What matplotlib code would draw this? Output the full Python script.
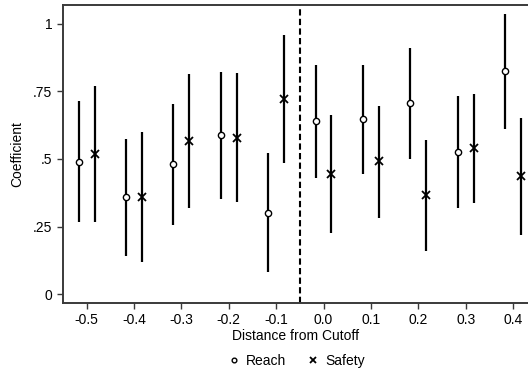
import matplotlib.pyplot as plt
import numpy as np

plt.rcParams["font.family"] = ["Liberation Sans", "DejaVu Sans"]

# bins of distance from cutoff
bins = [-0.5, -0.4, -0.3, -0.2, -0.1, 0.0, 0.1, 0.2, 0.3, 0.4]

reach_coef = [0.49, 0.358, 0.48, 0.587, 0.30, 0.64, 0.647, 0.707, 0.524, 0.824]
reach_lo = [0.267, 0.141, 0.255, 0.35, 0.08, 0.431, 0.444, 0.498, 0.317, 0.611]
reach_hi = [0.713, 0.574, 0.702, 0.82, 0.521, 0.849, 0.849, 0.911, 0.733, 1.036]

safety_coef = [0.52, 0.358, 0.565, 0.578, 0.722, 0.445, 0.491, 0.365, 0.539, 0.437]
safety_lo = [0.267, 0.12, 0.317, 0.34, 0.485, 0.226, 0.283, 0.161, 0.337, 0.22]
safety_hi = [0.771, 0.599, 0.814, 0.818, 0.959, 0.664, 0.696, 0.571, 0.742, 0.652]

cutoff = -0.05
offset = 0.0167

fig = plt.figure(figsize=(5.28, 3.75), dpi=100)
ax = fig.add_axes([0.1187, 0.192, 0.8813, 0.795])

xr = np.array(bins) - offset
xs = np.array(bins) + offset

ax.vlines(xr, reach_lo, reach_hi, color="black", lw=1.6)
ax.vlines(xs, safety_lo, safety_hi, color="black", lw=1.6)
ax.plot(xr, reach_coef, "o", ms=4.5, mfc="white", mec="black", mew=1.0,
        ls="none", label="Reach")
ax.plot(xs, safety_coef, "x", ms=5.5, color="black", mew=1.3,
        ls="none", label="Safety")
ax.axvline(cutoff, color="black", lw=1.5, ls=(0, (3, 1.6)))

ax.set_xlim(-0.5506, 0.4316)
ax.set_ylim(-0.033, 1.07)
ax.set_xticks(bins)
ax.set_xticklabels([f"{b:.1f}" for b in bins])
ax.set_yticks([0, 0.25, 0.5, 0.75, 1])
ax.set_yticklabels(["0", ".25", ".5", ".75", "1"])

for side in ["left", "bottom", "top"]:
    ax.spines[side].set_color("#3a3a3a")
    ax.spines[side].set_linewidth(1.4)
ax.spines["right"].set_visible(False)
ax.tick_params(colors="#3a3a3a", labelcolor="black", labelsize=10,
               length=4, width=1.0)

ax.set_xlabel("Distance from Cutoff", fontsize=10, labelpad=1)
ax.set_ylabel("Coefficient", fontsize=10, labelpad=6)

fig.legend(loc="lower center", bbox_to_anchor=(0.56, -0.015), ncol=2,
           frameon=False, fontsize=10, handlelength=1.0, handletextpad=0.4,
           columnspacing=1.4, markerscale=0.75)

fig.savefig("out.png", dpi=100)
